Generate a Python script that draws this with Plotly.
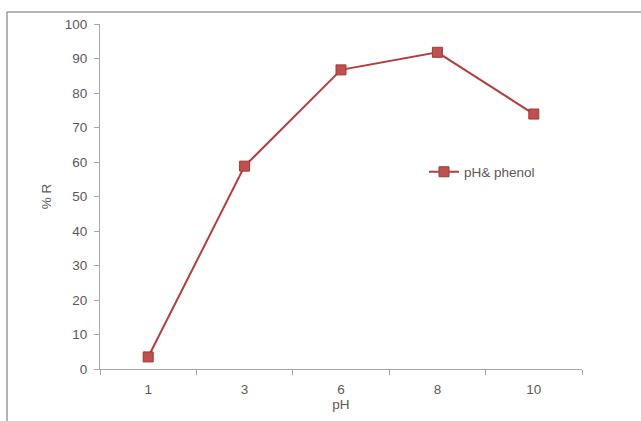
import plotly.graph_objects as go

# pH values tested and percentage removal of phenol
ph_labels = ["1", "3", "6", "8", "10"]
removal = [3.5, 58.8, 86.7, 91.8, 73.9]
series_name = "pH& phenol"
y_ticks = list(range(0, 101, 10))

W, H = 641, 421
L, R, T, B = 100, 59, 24, 52
pw, ph = W - L - R, H - T - B

def px_x(x):
    return (x - L) / pw

def px_y(y):
    return (H - B - y) / ph

font_fam = "Liberation Sans, Arial, sans-serif"
txt = "#595959"
axis_col = "#a6a6a6"
fs = 13.5

fig = go.Figure()
fig.add_trace(go.Scatter(
    x=ph_labels, y=removal, mode="lines+markers", name=series_name,
    line=dict(color="#b0403d", width=2),
    marker=dict(symbol="square", size=10, color="#c0504d",
                line=dict(color="#9c3a38", width=1)),
))

fig.update_layout(
    width=W, height=H,
    margin=dict(l=L, r=R, t=T, b=B),
    paper_bgcolor="white", plot_bgcolor="white",
    font=dict(family=font_fam, size=fs, color=txt),
    showlegend=True,
    legend=dict(x=px_x(424), y=px_y(172), xanchor="left", yanchor="middle",
                bgcolor="rgba(0,0,0,0)", font=dict(size=fs, color=txt),
                itemwidth=30, tracegroupgap=0),
    xaxis=dict(
        type="category", categoryorder="array", categoryarray=ph_labels,
        range=[-0.5, len(ph_labels) - 0.5],
        showline=True, linecolor=axis_col, linewidth=1,
        showgrid=False, zeroline=False,
        ticks="outside", ticklen=5, tickcolor=axis_col,
        tickson="boundaries", ticklabelstandoff=8,
        tickfont=dict(size=fs, color=txt),
        title=dict(text="pH", font=dict(size=fs, color=txt), standoff=0),
    ),
    yaxis=dict(
        range=[0, 100], tickvals=y_ticks,
        showline=True, linecolor=axis_col, linewidth=1,
        showgrid=False, zeroline=False,
        ticks="outside", ticklen=5, tickcolor=axis_col,
        ticklabelstandoff=4,
        tickfont=dict(size=fs, color=txt),
        title=dict(text="% R", font=dict(size=fs, color=txt), standoff=10),
    ),
)

# chart area frame (top and left edges visible)
fig.add_shape(type="line", xref="paper", yref="paper",
              x0=px_x(7), x1=px_x(W + 5), y0=px_y(12), y1=px_y(12),
              line=dict(color="#9a9a9a", width=1.5))
fig.add_shape(type="line", xref="paper", yref="paper",
              x0=px_x(7), x1=px_x(7), y0=px_y(12), y1=px_y(H + 5),
              line=dict(color="#9a9a9a", width=1.5))

fig.write_html("out.html")
